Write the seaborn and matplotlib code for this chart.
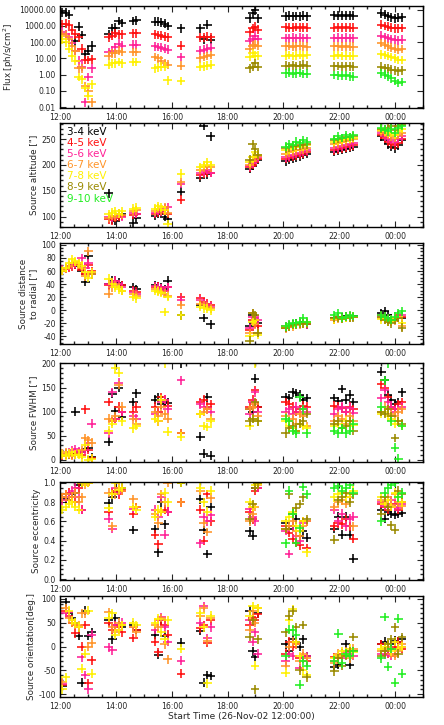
import numpy as np
import pandas as pd
import seaborn as sns
import matplotlib.pyplot as plt
from matplotlib.ticker import FixedLocator, FuncFormatter, AutoMinorLocator, LogLocator, NullFormatter

nan = np.nan

# observation time bins (hours after 00:00 of 26-Nov-02; >24 means next day)
t_bins = [12.08, 12.20, 12.32, 12.43, 12.55, 12.67, 12.78, 12.90, 13.02, 13.13,
          13.75, 13.87, 13.98, 14.10, 14.22,
          14.63, 14.73,
          15.40, 15.52, 15.63, 15.75, 15.85,
          16.33,
          17.03, 17.15, 17.27, 17.40,
          18.80, 18.90, 18.98, 19.08,
          20.08, 20.20, 20.33, 20.45, 20.58, 20.70, 20.83,
          21.83, 21.97, 22.10, 22.23, 22.37, 22.50,
          23.50, 23.63, 23.75, 23.87, 24.00, 24.12, 24.25]
t_89 = t_bins[27:]    # 8-9 keV seen from 18:48 on
t_910 = t_bins[31:]   # 9-10 keV seen from 20:05 on

bands = ['3-4 keV', '4-5 keV', '5-6 keV', '6-7 keV', '7-8 keV', '8-9 keV', '9-10 keV']
colors = ['#000000', '#ff1010', '#ff2096', '#ff9428', '#fff000', '#9a8a00', '#22ee22']

# ---- Flux [ph/s/cm^2]
flux_34 = [7000, 6500, 5000, nan, 110, 900, 280, 18, 30, 60, 300, 700, 800, 2000, 1500, 2000, 2200,
           1800, 1800, 1700, 1400, 1000, 700, 700, 150, 1200, 140, 3000, 6000, 9000, 3000,
           4000, 4200, 3900, 4100, 4000, 4300, 4000, 4500, 4400, 4600, 4300, 4500, 4200,
           6000, 5000, 4000, 3500, 3000, 3200, 3500]
flux_45 = [1300, 1400, 1200, 600, 300, 200, 40, 8, 8, 9, 200, 250, 350, 300, 300, 350, 350,
           300, 280, 250, 220, 200, 60, 200, 200, 220, 200, 400, 700, 900, 600,
           820, 780, 800, 850, 790, 810, 800, 800, 830, 790, 810, 780, 800,
           1200, 1000, 900, 800, 700, 700, 750]
flux_56 = [450, 300, 200, 90, 30, 7, 3, 0.02, 0.7, 2.5, 25, 30, 50, 80, 60, 70, 70,
           55, 50, 45, 40, 35, 12, 30, 35, 40, 45, 120, 150, 250, 150,
           180, 170, 190, 175, 185, 180, 170, 180, 190, 175, 185, 180, 170,
           250, 200, 170, 150, 140, 130, 140]
flux_67 = [300, 250, 150, 60, 30, 2.5, 2.5, 0.2, 0.1, 0.02, 15, 20, 20, 30, 25, 25, 25,
           12, 10, 7, 5, 4, 3.5, 10, 12, 14, 16, 40, 60, 70, 60,
           55, 58, 52, 56, 60, 55, 53, 55, 57, 53, 56, 54, 52,
           90, 70, 55, 45, 40, 35, 38]
flux_78 = [150, 100, 40, 15, 7, 0.7, 0.5, 0.15, 0.05, 0.25, 4, 5, 5, 6, 5, 6, 6,
           2.5, 2.8, 3, 3, 0.45, 0.4, 3, 3.2, 3.5, 4, 12, 20, 15, 15,
           15, 16, 14, 15, 17, 15, 16, 15, 16, 14, 15, 14, 15,
           18, 16, 14, 12, 10, 8, 8]
flux_89 = [2.5, 3, 5, 3, 3.5, 3.2, 3.8, 3.4, 3.6, 4, 3.5, 3.2, 3.4, 3.1, 3.3, 3.2, 3.0,
           3, 2.5, 2.5, 2, 1.8, 1.6, 1.8]
flux_910 = [1.2, 1.3, 1.1, 1.2, 1.25, 1.1, 1.15, 0.95, 0.9, 0.85, 0.9, 0.8, 0.75,
            1.2, 1.0, 0.8, 0.6, 0.4, 0.3, 0.35]

# ---- Source altitude ["]
alt_34 = [nan] * 10 + [145, 95, 92, 100, 105, 88, 97, 102, 105, 110, 100, 95, 148,
          175, 275, 182, 255, 192, 198, 205, 210, 207, 210, 212, 215, 217, 220, 222,
          225, 227, 229, 231, 233, 235, 255, 248, 240, 235, 232, 238, 248]
alt_45 = [nan] * 10 + [95, 93, 98, 100, 102, 103, 105, 105, 108, 110, 112, 105, 133,
          180, 183, 186, 185, 195, 200, 205, 212, 212, 214, 216, 218, 220, 222, 225,
          228, 230, 232, 234, 236, 238, 258, 252, 245, 240, 238, 242, 250]
alt_56 = [nan] * 10 + [100, 98, 102, 105, 100, 108, 106, 108, 112, 110, 115, 118, 163,
          185, 188, 190, 185, 197, 203, 210, 215, 215, 217, 219, 221, 223, 225, 228,
          232, 234, 236, 238, 240, 242, 262, 255, 250, 248, 245, 250, 255]
alt_67 = [nan] * 10 + [98, 102, 100, 106, 104, 110, 112, 110, 115, 112, 118, 108, 167,
          190, 195, 198, 195, 200, 208, 215, 218, 222, 224, 226, 228, 229, 230, 232,
          240, 242, 244, 246, 248, 250, 265, 262, 258, 255, 252, 258, 262]
alt_78 = [nan] * 10 + [105, 108, 110, 106, 110, 115, 117, 115, 120, 118, 112, 85, 183,
          195, 200, 205, 200, 205, 215, 225, 220, 228, 230, 232, 234, 235, 236, 238,
          245, 247, 249, 250, 251, 252, 268, 265, 262, 262, 258, 265, 270]
alt_89 = [210, 240, 230, 220, 232, 234, 236, 237, 238, 239, 240, 248, 250, 252, 253, 254, 255,
          270, 268, 272, 275, 268, 275, 278]
alt_910 = [235, 240, 238, 245, 242, 248, 245, 250, 255, 252, 258, 254, 258,
           272, 268, 265, 270, 262, 272, 275]

# ---- Source distance to radial ["]
dist_34 = [nan, nan, 67, 70, 70, 68, 60, 43, 83, 55, 40, 45, 45, 42, 38, 35, 32,
           38, 36, 35, 32, 45, -8, 8, -12, 5, -22, -25, -8, -15, -20,
           -26, -25, -22, -20, -20, -18, -22, -12, -10, -11, -9, -10, -9,
           -5, -2, -8, -12, -15, -10, -12]
dist_45 = [60, 63, 65, 67, 70, 69, 62, 55, 70, 60, 38, 42, 44, 40, 38, 30, 28,
           35, 36, 34, 30, 35, 20, 18, 12, 10, 8, -30, -15, -20, -25,
           -27, -26, -24, -22, -21, -20, -19, -14, -12, -12, -11, -10, -10,
           -8, -10, -12, -15, -12, -8, -10]
dist_56 = [62, 64, 67, 70, 72, 72, 80, 65, 72, 58, 40, 43, 45, 40, 36, 28, 25,
           37, 35, 33, 30, 35, 15, 15, 10, 8, 5, -28, -10, -12, -15,
           -25, -24, -23, -22, -21, -20, -22, -13, -11, -12, -10, -11, -10,
           -10, -12, -15, -14, -12, -10, -8]
dist_67 = [61, 64, 68, 72, 74, 70, 65, 52, 90, 55, 25, 35, 38, 35, 30, 25, 22,
           33, 30, 28, 25, 22, 8, 10, 8, 5, 3, -35, -5, -22, -35,
           -28, -26, -25, -23, -22, -21, -20, -15, -13, -12, -12, -11, -10,
           -12, -14, -15, -18, -16, -12, -25]
dist_78 = [60, 65, 72, 78, 75, 72, 68, 58, 50, 58, 48, 40, 35, 32, 30, 20, 18,
           30, 28, 27, -3, 20, -8, 5, 3, 2, 0, -40, -18, -15, -38,
           -26, -25, -24, -22, -20, -21, -19, -14, -12, -13, -11, -12, -10,
           -14, -15, -18, -16, -12, -10, -20]
dist_89 = [-47, -5, -8, -35, -27, -25, -23, -22, -21, -20, -21, -12, -11, -13, -10, -12, -11,
           -10, -15, -18, -20, -15, -12, -27]
dist_910 = [-25, -22, -20, -20, -18, -12, -18, -8, -5, -12, -10, -8, -9,
            -8, -10, -12, -15, -10, -5, -2]

# ---- Source FWHM ["]
fwhm_34 = [nan, 10, 10, 12, 100, 12, 15, 22, 25, 5, 37, 137, 102, 150, 88, 120, 138,
           125, 130, 115, 120, 118, 200, 48, 12, 130, 8, 105, 100, 168, 110,
           130, 128, 140, 138, 135, 125, 128, 128, 122, 147, 125, 135, 120,
           183, 165, 135, 125, 115, 120, 140]
fwhm_45 = [8, 10, 12, 10, 12, 15, 10, 105, 20, 3, 120, 80, 85, 110, 100, 100, 110,
           110, 100, 130, 125, 112, 55, 120, 125, 110, 115, 110, 125, 145, 110,
           120, 115, 110, 100, 105, 112, 110, 112, 110, 108, 100, 110, 105,
           158, 150, 130, 110, 105, 115, 120]
fwhm_56 = [10, 12, 15, 20, 22, 18, 15, 20, 35, 75, 55, 140, 85, 160, 100, 90, 85,
           95, 80, 120, 125, 105, 165, 115, 110, 105, 100, 95, 120, 140, 100,
           100, 105, 95, 110, 100, 105, 100, 95, 105, 110, 100, 108, 98,
           128, 145, 120, 110, 100, 105, 110]
fwhm_67 = [12, 15, 10, 8, 10, 12, 20, 45, 40, 35, 85, 80, 90, 155, 110, 85, 75,
           100, 90, 110, 95, 85, 55, 95, 100, 105, 85, 105, 110, 115, 90,
           90, 80, 85, 75, 95, 90, 70, 80, 90, 85, 75, 90, 80,
           100, 110, 105, 95, 90, 100, 105]
fwhm_78 = [10, 8, 12, 15, 10, 10, 5, 30, 0, 2, 60, 75, 190, 180, 80, 65, 70,
           85, 80, 125, 200, 58, 48, 95, 70, 68, 80, 70, 85, 200, 80,
           80, 70, 65, 60, 75, 70, 65, 70, 75, 65, 80, 70, 72,
           95, 100, 90, 85, 75, 80, 70]
fwhm_89 = [80, 85, 120, 80, 55, 65, 70, 60, 75, 80, 95, 75, 80, 65, 70, 80, 60,
           100, 95, 105, 90, 45, 80, 75]
fwhm_910 = [85, 80, 60, 55, 130, 105, 55, 60, 55, 65, 55, 60, 75,
            110, 165, 200, 80, 25, 2, 70]

# ---- Source eccentricity
ecc_34 = [0.85, 0.83, 0.82, 0.88, 0.9, 0.98, 1.0, nan, nan, nan, 0.79, 0.85, 0.9, 0.92, 0.95, 0.51, nan,
          0.52, 0.28, 0.8, 0.57, nan, 1.0, 0.83, 0.51, 0.26, 0.75, 0.5, 0.45, 0.95, 1.0,
          0.58, 0.52, 0.55, 0.62, 0.45, 0.5, 0.43, 0.52, 0.65, 0.46, 0.65, 0.46, 0.21,
          0.72, 0.63, 0.7, 0.68, 0.67, 0.68, 0.69]
ecc_45 = [0.85, 0.88, 0.9, 0.85, 0.8, 0.95, 0.72, 1.0, 1.0, nan, 0.7, 0.9, 0.92, 0.88, 0.93, 0.68, 0.75,
          0.46, 0.36, 0.7, 0.72, 0.7, 0.8, 0.72, 0.4, 0.88, 0.6, 0.7, 0.62, 0.92, 0.95,
          0.55, 0.48, 0.42, 0.38, 0.35, 0.6, 0.32, 0.55, 0.58, 0.57, 0.62, 0.55, 0.42,
          0.78, 0.75, 0.72, 0.75, 0.78, 0.72, 0.8]
ecc_56 = [0.82, 0.85, 0.88, 0.92, 0.95, 0.85, 0.72, 1.0, nan, nan, 0.63, 0.52, 0.95, 0.9, 0.92, 0.73, nan,
          0.72, 0.65, 0.85, 0.46, 0.7, nan, 0.37, 0.65, 0.6, 0.67, 0.73, 0.65, 0.6, 0.95,
          0.5, 0.26, 0.55, 0.45, 0.4, 0.58, 0.6, 0.72, 0.6, 0.68, 0.55, 0.63, 0.65,
          0.8, 0.76, 0.78, 0.82, 0.75, 0.74, 0.78]
ecc_67 = [0.85, 0.88, 0.82, 0.85, 0.9, 0.8, 0.85, 0.98, 1.0, nan, 0.9, 0.55, 0.88, 0.95, 0.92, 0.83, 0.75,
          0.68, 0.58, 0.88, 0.8, 1.0, 0.8, 0.92, 0.58, 0.49, 0.84, 0.6, 0.68, 0.75, 0.98,
          0.52, 0.55, 0.6, 0.5, 0.45, 0.55, 0.6, 0.75, 0.8, 0.82, 0.78, 0.85, 0.55,
          0.82, 0.8, 0.85, 0.77, 0.88, 0.8, 0.76]
ecc_78 = [0.72, 0.75, 0.78, 0.8, 0.75, 0.72, 1.0, 1.0, 1.0, nan, 0.74, 0.88, 1.0, 0.93, 0.95, 0.75, 0.72,
          0.65, 0.72, 0.7, 0.9, 0.8, 1.0, 0.95, 0.8, 0.7, 0.92, 0.8, 0.75, 0.98, 0.99,
          0.6, 0.65, 0.7, 0.55, 0.5, 0.6, 0.28, 0.85, 0.88, 0.9, 0.85, 0.88, 0.92,
          0.85, 0.78, 0.82, 0.75, 0.9, 0.85, 0.8]
ecc_89 = [0.62, 0.78, 0.95, 1.0, 0.52, 0.88, 0.68, 0.74, 0.78, 0.85, 0.62,
          0.41, 0.82, 0.85, 0.9, 0.8, 0.88, 0.68, 0.85, 0.75, 0.56, 0.51, 0.92, 0.88]
ecc_910 = [0.37, 0.92, 0.68, 0.38, 0.53, 0.96, 0.88, 0.95, 0.97, 0.92, 0.95, 0.98, 0.9,
           0.6, 0.9, 0.95, 0.98, 1.0, 0.85, 0.9]

# ---- Source orientation [deg.]
ori_34 = [-83, 93, 70, 60, 50, 23, -76, 75, 22, 30, 55, 15, 60, 45, 40, 45, 35,
          24, -17, 55, 23, nan, 8, 33, -76, -60, -62, 75, -10, -22, 70,
          5, -10, 15, 10, 0, 15, -20, -43, -38, -15, 5, -38, -10,
          5, 10, -10, 5, 12, 10, 15]
ori_45 = [-80, 75, 65, 50, 28, 40, 0, 45, -77, -29, 50, 35, 45, 40, 30, 18, 35,
          10, -12, 55, 45, 25, -57, 38, 45, 8, 55, 45, 60, 55, 68,
          -15, 10, 0, 5, -25, -20, -30, -22, -25, -15, -18, -20, -10,
          5, -10, -15, -5, 0, 10, -5]
ori_56 = [-78, 70, 72, 55, 45, 42, -23, -60, -90, 25, -2, -8, 45, 35, 50, 40, nan,
          35, 55, 62, 40, 10, -30, 50, 85, 18, 40, 55, 10, 30, -15,
          -30, -15, -20, 5, -45, -25, -20, -30, -20, -25, -12, -15, -20,
          -15, -18, -10, -20, -15, -5, 0]
ori_67 = [-75, 80, 60, 50, 45, 45, 70, 70, 0, 8, 72, 40, 30, 50, 45, 40, 30,
          45, 40, 60, 5, -27, nan, 65, 80, 12, 60, 35, 75, 50, 80,
          -40, 0, 10, 5, -30, -15, -25, -35, -15, -20, -10, -25, -5,
          -10, -5, 0, -15, -20, -10, 5]
ori_78 = [-90, -65, 75, 55, 50, 40, -47, -15, 75, -57, 60, 70, 25, 35, 45, 50, 45,
          50, 58, 30, 15, 55, -5, 70, 40, -77, 65, 65, 85, -40, 80,
          -55, 55, 78, 10, -20, -50, -60, -25, -20, -10, -15, -5, -12,
          -5, 0, 5, -10, 10, -5, 0]
ori_89 = [20, 55, -90, 15, 30, 65, 75, 40, -50, 45, -65, -52, -25, -40, -20, -10, 20,
          -20, -10, 5, 15, 40, -15, 20]
ori_910 = [-20, 35, 35, 25, -80, -30, -40, -30, 27, -35, -15, -20, -10,
           -25, 62, -42, -5, -76, 58, -57]


def long_table(series):
    rows = []
    for band, vals in zip(bands, series):
        t = t_bins if len(vals) == len(t_bins) else (t_89 if len(vals) == len(t_89) else t_910)
        rows.append(pd.DataFrame({'time': t, 'value': vals, 'band': band}))
    return pd.concat(rows, ignore_index=True).dropna()


panels = [
    ([flux_34, flux_45, flux_56, flux_67, flux_78, flux_89, flux_910], 'Flux [ph/s/cm$^2$]'),
    ([alt_34, alt_45, alt_56, alt_67, alt_78, alt_89, alt_910], 'Source altitude ["]'),
    ([dist_34, dist_45, dist_56, dist_67, dist_78, dist_89, dist_910], 'Source distance\nto radial ["]'),
    ([fwhm_34, fwhm_45, fwhm_56, fwhm_67, fwhm_78, fwhm_89, fwhm_910], 'Source FWHM ["]'),
    ([ecc_34, ecc_45, ecc_56, ecc_67, ecc_78, ecc_89, ecc_910], 'Source eccentricity'),
    ([ori_34, ori_45, ori_56, ori_67, ori_78, ori_89, ori_910], 'Source orientation[deg.]'),
]

sns.set_theme(style="ticks")
plt.rcParams['font.family'] = ['DejaVu Sans']
plt.rcParams.update({
    'xtick.direction': 'in', 'ytick.direction': 'in',
    'xtick.top': True, 'ytick.right': True,
    'xtick.major.size': 4, 'ytick.major.size': 4,
    'xtick.minor.size': 2, 'ytick.minor.size': 2,
    'xtick.major.width': 0.8, 'ytick.major.width': 0.8,
    'axes.linewidth': 1.0,
})

fig = plt.figure(figsize=(4.44, 7.25), dpi=100)
H = 725.0
tops = [6, 123, 243, 363, 482, 596]
bottoms = [108, 227, 344, 462, 580, 697]
ylims = [(0.0087, 17000), (80, 281), (-52, 103), (-5, 201), (-0.01, 1.01), (-106, 106)]
yticks = [[0.01, 0.1, 1, 10, 100, 1000, 10000], [100, 150, 200, 250],
          [-40, -20, 0, 20, 40, 60, 80, 100], [0, 50, 100, 150, 200],
          [0.0, 0.2, 0.4, 0.6, 0.8, 1.0], [-100, -50, 0, 50, 100]]
yminor = [None, 5, 4, 5, 4, 5]
yfmt = ['{:.2f}', '{:.0f}', '{:.0f}', '{:.0f}', '{:.1f}', '{:.0f}']

palette = dict(zip(bands, colors))
for i, (series, ylabel) in enumerate(panels):
    ax = fig.add_axes([60 / 444, 1 - bottoms[i] / H, 363 / 444, (bottoms[i] - tops[i]) / H])
    df = long_table(series)
    sns.scatterplot(data=df, x='time', y='value', hue='band', hue_order=bands,
                    palette=palette, marker='+', s=40, linewidth=1.15, legend=False, ax=ax)
    if i == 0:
        ax.set_yscale('log')
        ax.yaxis.set_minor_locator(LogLocator(base=10, subs=np.arange(2, 10)))
        ax.yaxis.set_minor_formatter(NullFormatter())
    else:
        ax.yaxis.set_minor_locator(AutoMinorLocator(yminor[i]))
    ax.set_ylim(*ylims[i])
    ax.yaxis.set_major_locator(FixedLocator(yticks[i]))
    fmt = yfmt[i]
    ax.yaxis.set_major_formatter(FuncFormatter(lambda v, p, f=fmt: f.format(v)))
    ax.set_xlim(12, 25)
    ax.xaxis.set_major_locator(FixedLocator([12, 14, 16, 18, 20, 22, 24]))
    ax.xaxis.set_major_formatter(FuncFormatter(lambda v, p: '%02d:00' % (int(round(v)) % 24)))
    ax.xaxis.set_minor_locator(AutoMinorLocator(4))
    ax.tick_params(which='both', labelsize=5.6)
    ax.tick_params(axis='x', pad=3.3)
    ax.tick_params(axis='y', pad=3)
    ax.set_ylabel(ylabel, fontsize=6.3, labelpad=2)
    ax.set_xlabel('')
    for s in ax.spines.values():
        s.set_color('black')

    if i == 1:
        for k, (band, col) in enumerate(zip(bands, colors)):
            ax.text(0.02, 0.91 - k * 0.106, band, color=col, fontsize=7.5,
                    transform=ax.transAxes, va='center', ha='left')

ax.set_xlabel('Start Time (26-Nov-02 12:00:00)', fontsize=6.5, labelpad=1)

plt.savefig('out.png', dpi=100)
